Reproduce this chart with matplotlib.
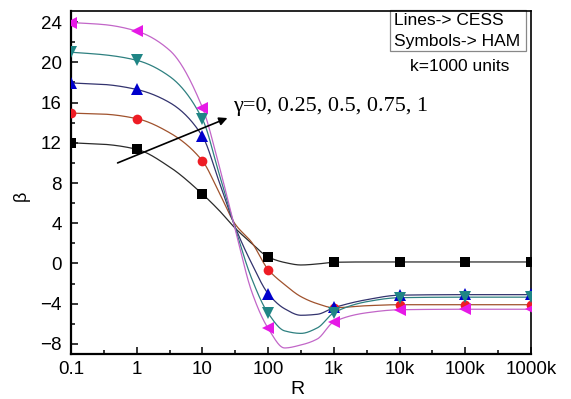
import numpy as np
import matplotlib.pyplot as plt

# HAM solution (symbols)
ham_R = [0.1, 1, 10, 100, 1e3, 1e4, 1e5, 1e6]
ham_g0 = [12.0, 11.35, 6.9, 0.65, 0.12, 0.15, 0.15, 0.15]
ham_g025 = [14.95, 14.4, 10.2, -0.6, -4.4, -4.1, -4.1, -4.1]
ham_g05 = [17.95, 17.3, 12.65, -3.0, -4.35, -3.1, -3.05, -3.05]
ham_g075 = [21.0, 20.2, 14.35, -4.95, -4.9, -3.4, -3.35, -3.35]
ham_g1 = [23.95, 23.1, 15.5, -6.45, -5.8, -4.6, -4.55, -4.55]

# CESS solution (lines)
cess_R = [0.1, 0.316, 1, 3.16, 10, 17.8, 31.6, 56.2, 100, 178, 316, 562,
          1e3, 3162, 1e4, 1e5, 1e6]
cess_g0 = [12.0, 11.85, 11.35, 9.6, 6.9, 5.3, 3.5, 2.0, 0.65, 0.1, -0.15,
           -0.05, 0.12, 0.15, 0.15, 0.15, 0.15]
cess_g025 = [14.95, 14.85, 14.4, 13.0, 10.2, 7.1, 3.9, 2.1, -0.6, -2.1, -3.3,
             -4.0, -4.4, -4.2, -4.1, -4.1, -4.1]
cess_g05 = [17.95, 17.8, 17.3, 16.0, 12.65, 8.2, 3.6, 0.0, -3.0, -4.5, -5.15,
            -5.05, -4.4, -3.6, -3.15, -3.1, -3.1]
cess_g075 = [21.0, 20.75, 20.2, 18.6, 14.35, 9.0, 3.5, -1.5, -4.95, -6.7, -6.95,
             -6.4, -4.9, -3.8, -3.4, -3.35, -3.35]
cess_g1 = [23.95, 23.75, 23.1, 21.2, 15.5, 9.8, 3.4, -2.8, -6.45, -8.4, -8.1,
           -7.5, -5.8, -4.9, -4.6, -4.55, -4.55]

xticks = [0.1, 1, 10, 100, 1e3, 1e4, 1e5, 1e6]
xticklabels = ['0.1', '1', '10', '100', '1k', '10k', '100k', '1000k']


def pchip(x, y, xn):
    # monotone cubic hermite, used only to draw the smooth curves
    x = np.asarray(x, float)
    y = np.asarray(y, float)
    h = np.diff(x)
    d = np.diff(y) / h
    m = np.zeros_like(y)
    m[0], m[-1] = d[0], d[-1]
    for k in range(1, len(x) - 1):
        if d[k - 1] * d[k] > 0:
            w1 = 2 * h[k] + h[k - 1]
            w2 = h[k] + 2 * h[k - 1]
            m[k] = (w1 + w2) / (w1 / d[k - 1] + w2 / d[k])
    i = np.clip(np.searchsorted(x, xn) - 1, 0, len(x) - 2)
    t = (xn - x[i]) / h[i]
    h00 = 2 * t**3 - 3 * t**2 + 1
    h10 = t**3 - 2 * t**2 + t
    h01 = -2 * t**3 + 3 * t**2
    h11 = t**3 - t**2
    return h00 * y[i] + h10 * h[i] * m[i] + h01 * y[i + 1] + h11 * h[i] * m[i + 1]


plt.rcParams['font.family'] = ['Liberation Sans', 'DejaVu Sans']

fig = plt.figure(figsize=(5.71, 3.99), dpi=100)
ax = fig.add_axes([71 / 571, 1 - 354 / 399, 460 / 571, 343 / 399])

series = [
    (cess_g0, ham_g0, '#2a2a2a', '#000000', 's', 6.5),
    (cess_g025, ham_g025, '#a0522d', '#ee1c24', 'o', 7),
    (cess_g05, ham_g05, '#33336e', '#0000cc', '^', 8),
    (cess_g075, ham_g075, '#2e8080', '#1f8585', 'v', 8),
    (cess_g1, ham_g1, '#c266c8', '#e619e6', '<', 8),
]

lx = np.log10(cess_R)
xs = np.linspace(lx[0], lx[-1], 800)
for cess, ham, lc, mc, mk, ms in series:
    ax.plot(10 ** xs, pchip(lx, cess, xs), color=lc, lw=0.9, zorder=2)
    ax.plot(ham_R, ham, linestyle='none', marker=mk, color=mc, ms=ms,
            markeredgewidth=0, zorder=3)

ax.set_xscale('log')
ax.set_xlim(0.1, 1e6)
ax.set_ylim(-9.0, 25.1)
ax.set_xticks(xticks)
ax.set_xticklabels(xticklabels)
ax.set_xticks([10 ** (k + 0.5) for k in range(-1, 6)], minor=True)
ax.set_yticks(range(-8, 25, 4))
ax.set_yticks(range(-6, 25, 4), minor=True)
ax.tick_params(axis='both', which='major', direction='in', length=5, width=1.1,
               labelsize=13.5)
ax.tick_params(axis='both', which='minor', direction='in', length=3, width=1.1)
ax.tick_params(axis='x', which='major', pad=5)
ax.tick_params(axis='y', which='major', pad=6.5)
ax.tick_params(top=False, right=False, which='both')
for s in ['left', 'bottom']:
    ax.spines[s].set_linewidth(1.6)
for s in ['top', 'right']:
    ax.spines[s].set_linewidth(1.2)

fig.text(297 / 571, 1 - 390 / 399, 'R', ha='center', va='center', fontsize=14)
fig.text(21 / 571, 1 - 196 / 399, 'β', ha='center', va='center', fontsize=13,
         rotation=90)

# arrow and gamma label
ax.annotate('', xy=(0.3457, 0.691), xytext=(0.0957, 0.554),
            xycoords='axes fraction',
            arrowprops=dict(arrowstyle='-|>', color='black', lw=1.2,
                            mutation_scale=12))
ax.text(0.352, 0.708, 'γ=0, 0.25, 0.5, 0.75, 1', transform=ax.transAxes,
        family=['Liberation Serif', 'DejaVu Serif'], fontsize=16,
        ha='left', va='baseline')

# note box
box = plt.Rectangle((0.6935, 0.883), 0.2955, 0.12, transform=ax.transAxes,
                    fill=False, edgecolor='#888888', lw=0.9, clip_on=False)
ax.add_patch(box)
ax.text(0.702, 0.971, 'Lines-> CESS', transform=ax.transAxes, fontsize=12.5,
        ha='left', va='center')
ax.text(0.702, 0.910, 'Symbols-> HAM', transform=ax.transAxes, fontsize=12.5,
        ha='left', va='center')
ax.text(0.8457, 0.838, 'k=1000 units', transform=ax.transAxes, fontsize=12.5,
        ha='center', va='center')

plt.savefig('out.png', dpi=100)
